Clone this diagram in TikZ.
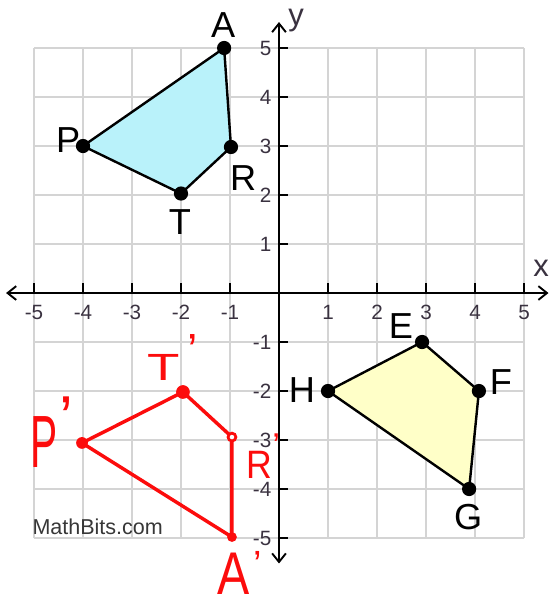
\documentclass[tikz,border=0pt]{standalone}
\usepackage{fontspec}
\usepackage{graphicx}
\setmainfont{Liberation Sans}
\usetikzlibrary{arrows.meta}
\definecolor{gridgray}{RGB}{212,212,212}
\definecolor{bluefill}{RGB}{185,242,250}
\definecolor{yellowfill}{RGB}{255,255,200}
\definecolor{numgray}{RGB}{58,50,64}
\definecolor{penred}{RGB}{252,12,12}
\begin{document}
\begin{tikzpicture}[x=1cm,y=1cm,
  gridline/.style={gridgray, line width=1.1pt},
  axisline/.style={black, line width=1.1pt, {Straight Barb[length=5pt,width=8pt]}-{Straight Barb[length=5pt,width=8pt]}},
  tickmark/.style={black, line width=1.1pt},
  numlabel/.style={text=numgray, font=\fontsize{12}{14}\selectfont, inner sep=0pt},
  axislabel/.style={text=numgray, font=\fontsize{18}{20}\selectfont, inner sep=0pt},
  dot/.style={circle, fill=black, inner sep=0pt, minimum size=0.29cm},
  vlabel/.style={font=\fontsize{21}{24}\selectfont, inner sep=0pt},
  edgeline/.style={black, line width=1.4pt},
  reddot/.style={circle, fill=penred, inner sep=0pt, minimum size=#1},
  redring/.style={circle, draw=penred, line width=1.6pt, fill=white, inner sep=0pt, minimum size=0.16cm},
  redline/.style={penred, line width=2pt, line cap=round},
  redlabel/.style={text=penred, inner sep=0pt, anchor=base},
]
\useasboundingbox (-5.694,-6.265) rectangle (5.592,5.980);
\fill[white] (-5.694,-6.265) rectangle (5.592,5.980);

% grid
\draw[gridline] (-5,-5) grid (5,5);

% vertex coordinates
\coordinate (cA) at (-1.12,5);
\coordinate (cR) at (-0.98,2.98);
\coordinate (cT) at (-2.0,2.03);
\coordinate (cP) at (-4,3);
\coordinate (cE) at (2.92,-1);
\coordinate (cF) at (4.08,-2);
\coordinate (cG) at (3.88,-4);
\coordinate (cH) at (1,-2);

% fills
\fill[bluefill] (cA) -- (cR) -- (cT) -- (cP) -- cycle;
\fill[yellowfill] (cE) -- (cF) -- (cG) -- (cH) -- cycle;

% axes
\coordinate (xl) at (-5.57,0);
\coordinate (xr) at (5.5,0);
\coordinate (yb) at (0,-5.52);
\coordinate (yt) at (0,5.53);
\draw[axisline] (xl) -- (xr);
\draw[axisline] (yb) -- (yt);

% ticks and numbers
\foreach \i in {-5,-4,-3,-2,-1,1,2,3,4,5}{
  \draw[tickmark] (\i,0) -- (\i,0.2);
  \draw[tickmark] (0,\i) -- (0.19,\i);
  \node[numlabel] (xn\i) at (\i,-0.39) {\i};
  \node[numlabel, anchor=east] (yn\i) at (-0.15,\i) {\i};
}
\node[axislabel] (xlab) at (5.35,0.50) {x};
\node[axislabel] (ylab) at (0.35,5.56) {y};

% edges
\draw[edgeline] (cA) -- (cR) -- (cT) -- (cP) -- cycle;
\draw[edgeline] (cE) -- (cF) -- (cG) -- (cH) -- cycle;

% dots
\foreach \v in {A,R,T,P,E,F,G,H}{ \node[dot] (\v) at (c\v) {}; }

% vertex labels
\node[vlabel] (lA) at (-1.14,5.47) {A};
\node[vlabel] (lP) at (-4.3,3.12) {P};
\node[vlabel] (lR) at (-0.73,2.35) {R};
\node[vlabel] (lT) at (-2.02,1.45) {T};
\node[vlabel] (lE) at (2.49,-0.67) {E};
\node[vlabel] (lF) at (4.53,-1.82) {F};
\node[vlabel] (lG) at (3.86,-4.57) {G};
\node[vlabel] (lH) at (0.47,-1.98) {H};

% watermark
\node[text={rgb,255:red,55;green,55;blue,55}, font=\fontsize{12.5}{14}\selectfont, inner sep=0pt] (mb) at (-3.70,-4.78) {MathBits.com};

% red image
\coordinate (rP) at (-4.02,-3.06);
\coordinate (rT) at (-1.96,-2.02);
\coordinate (rR) at (-0.96,-2.94);
\coordinate (rA) at (-0.96,-4.98);
\draw[redline] (rP) -- (rT) -- (rR) -- (rA) -- cycle;
\node[reddot=0.24cm] (Pp) at (rP) {};
\node[reddot=0.28cm] (Tp) at (rT) {};
\node[redring] (Rp) at (rR) {};
\node[reddot=0.2cm] (Ap) at (rA) {};

\node[redlabel] (lPp) at (-4.786,-3.571) {\scalebox{0.55}[1]{\fontsize{43}{43}\selectfont P}\rlap{\hspace{1pt}\raisebox{16.8pt}{\fontsize{36}{36}\selectfont\char"27}}};
\node[redlabel] (lTp) at (-2.347,-1.776) {\scalebox{1.4}[1]{\fontsize{22}{22}\selectfont T}\rlap{\hspace{4pt}\raisebox{8pt}{\fontsize{27}{27}\selectfont\char"27}}};
\node[redlabel] (lRp) at (-0.398,-3.776) {\scalebox{0.9}[1]{\fontsize{23}{23}\selectfont R}\rlap{\hspace{0pt}\raisebox{12pt}{\fontsize{20}{20}\selectfont\char"27}}};
\node[redlabel] (lAp) at (-0.929,-6.15) {\scalebox{0.8}[1]{\fontsize{35}{35}\selectfont A}\rlap{\hspace{2pt}\raisebox{9.7pt}{\fontsize{22}{22}\selectfont\char"27}}};
\end{tikzpicture}
\end{document}
